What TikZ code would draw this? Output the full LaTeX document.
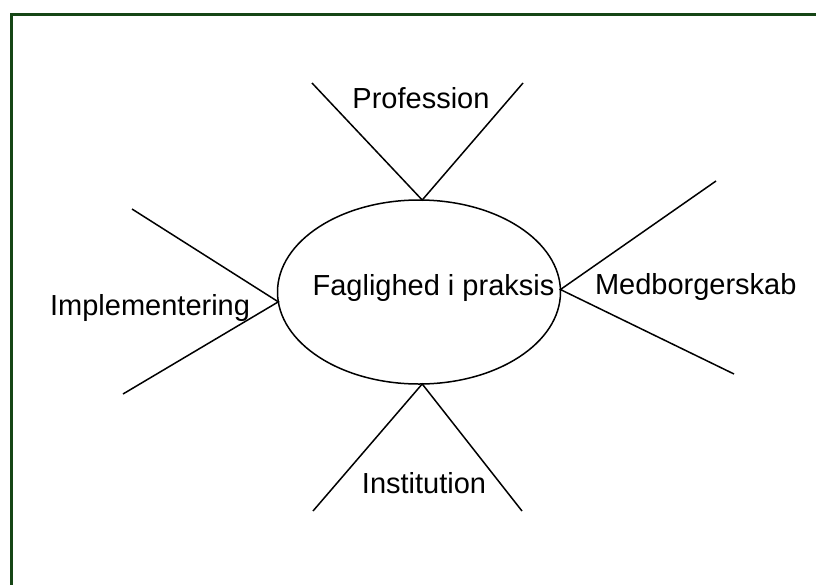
\documentclass[tikz,border=0pt]{standalone}
\usepackage{fontspec}
\setmainfont{Liberation Sans}
\usetikzlibrary{shapes.geometric}
\definecolor{framegreen}{RGB}{22,70,22}
\begin{document}
\begin{tikzpicture}[x=1pt,y=-1pt,inner sep=0pt,outer sep=0pt,line width=1.5pt,
lbl/.style={font=\fontsize{29}{34}\selectfont},
centre/.style={draw,ellipse,minimum width=283,minimum height=184,line width=1.5pt}]
\useasboundingbox (0,0) rectangle (816,584);
\clip (0,0) rectangle (816,584);
\draw[framegreen,line width=2.5pt] (11.5,14.5) rectangle (840,610);
\draw (419,292) node[centre] (fag) {};
\draw (433.5,295) node[lbl,anchor=base] (fagtxt) {Faglighed i praksis};
\draw (421,108) node[lbl,anchor=base] (prof) {Profession};
\draw (595,294) node[lbl,anchor=base west] (med) {Medborgerskab};
\draw (250,315) node[lbl,anchor=base east] (imp) {Implementering};
\draw (424,493) node[lbl,anchor=base] (inst) {Institution};
\coordinate (profL) at (312,83);
\coordinate (profR) at (523,83);
\coordinate (medU) at (716,181);
\coordinate (medD) at (734,374);
\coordinate (impU) at (132,209);
\coordinate (impD) at (123,394);
\coordinate (instL) at (313,511);
\coordinate (instR) at (522,511);
\draw (profL) -- (fag.88) -- (profR);
\draw (medU) -- (fag.1) -- (medD);
\draw (impU) -- (fag.184) -- (impD);
\draw (instL) -- (fag.-88) -- (instR);
\end{tikzpicture}
\end{document}
